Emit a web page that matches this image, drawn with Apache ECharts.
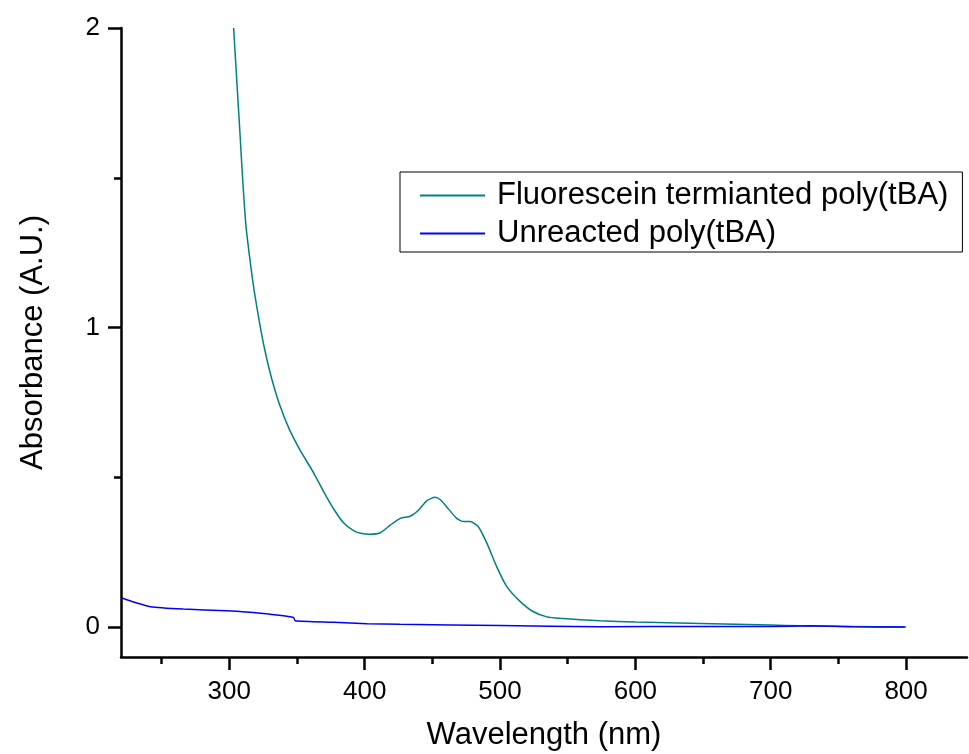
<!DOCTYPE html>
<html>
<head>
<meta charset="utf-8">
<title>Absorbance</title>
<script src="https://cdn.jsdelivr.net/npm/echarts@6/dist/echarts.min.js"></script>
<style>
    html, body { margin: 0; padding: 0; background: #fff; }
    #chart { width: 969px; height: 754px; }
</style>
</head>
<body>
<div id="chart"></div>
<script>
// wavelength (nm) / absorbance pairs
var fluoWl = [303.2, 306, 308, 309.8, 312.3, 316, 318.5, 322.2, 326, 331, 337, 344.4, 352.4, 362.3, 369.7, 377,
    384.4, 391.8, 398, 404, 411.5, 418.9, 426.3, 433.7, 439.8, 446, 452, 456, 460.8, 468, 473, 478, 484,
    490.3, 497.7, 505, 515, 524.7, 534.6, 544.5, 574, 600, 648, 700, 722, 760, 800];
var fluoAbs = [2.0, 1.79, 1.64, 1.50, 1.34, 1.20, 1.12, 1.02, 0.93, 0.835, 0.745, 0.66, 0.59, 0.515, 0.452, 0.395,
    0.348, 0.322, 0.312, 0.31, 0.315, 0.34, 0.363, 0.37, 0.39, 0.422, 0.433, 0.425, 0.40, 0.363, 0.352, 0.352, 0.335,
    0.28, 0.20, 0.135, 0.085, 0.051, 0.034, 0.029, 0.021, 0.017, 0.012, 0.007, 0.004, 0.002, 0.0];

var unrWl = [220.3, 230, 241.7, 266, 298, 323, 347.5, 348.7, 377, 401.7, 426, 500, 574, 650, 700, 729, 760, 799];
var unrAbs = [0.098, 0.083, 0.068, 0.060, 0.054, 0.046, 0.032, 0.021, 0.016, 0.011, 0.009, 0.005, 0.001, 0.002, 0.002, 0.004, 0.001, 0.0];

var xTicks = [300, 400, 500, 600, 700, 800];
var xMinor = [250, 350, 450, 550, 650, 750];
var yTicks = [0, 1, 2];
var yMinor = [0.5, 1.5];

function pairs(xs, ys) {
    var out = [];
    for (var i = 0; i < xs.length; i++) out.push([xs[i], ys[i]]);
    return out;
}

var font = '"Liberation Sans", Arial, sans-serif';
var myChart = echarts.init(document.getElementById('chart'));

var xBase = {
    type: 'value', min: 220, max: 845, position: 'bottom',
    splitLine: { show: false }
};
var yBase = {
    type: 'value', min: -0.1, max: 2, position: 'left',
    splitLine: { show: false }
};

myChart.setOption({
    animation: false,
    grid: { left: 121, top: 28, right: 2, bottom: 97, containLabel: false, outerBoundsMode: 'none' },
    legend: {
        orient: 'vertical',
        left: 400, top: 172,
        padding: [8, 14, 3, 20],
        itemGap: 7,
        itemWidth: 65,
        itemHeight: 2,
        icon: 'rect',
        borderColor: '#000',
        borderWidth: 1,
        textStyle: { fontFamily: font, fontSize: 31, color: '#000', padding: [0, 0, 0, 7] },
        data: ['Fluorescein termianted poly(tBA)', 'Unreacted poly(tBA)']
    },
    xAxis: [
        Object.assign({}, xBase, {
            name: 'Wavelength (nm)',
            nameLocation: 'middle',
            nameGap: 63,
            nameTextStyle: { fontFamily: font, fontSize: 31, color: '#000' },
            axisLine: { onZero: false, lineStyle: { color: '#000', width: 2.5 } },
            axisTick: { customValues: xTicks, length: 13, lineStyle: { color: '#000', width: 2.5 } },
            axisLabel: { customValues: xTicks, margin: 22, fontFamily: font, fontSize: 26, color: '#000' }
        }),
        Object.assign({}, xBase, {
            axisLine: { show: false, onZero: false },
            axisTick: { customValues: xMinor, length: 7, lineStyle: { color: '#000', width: 2.5 } },
            axisLabel: { show: false }
        })
    ],
    yAxis: [
        Object.assign({}, yBase, {
            name: 'Absorbance (A.U.)',
            nameLocation: 'middle',
            nameGap: 72,
            nameTextStyle: { fontFamily: font, fontSize: 31, color: '#000' },
            axisLine: { onZero: false, lineStyle: { color: '#000', width: 2.5 } },
            axisTick: { customValues: yTicks, length: 13, lineStyle: { color: '#000', width: 2.5 } },
            axisLabel: { customValues: yTicks, margin: 21, fontFamily: font, fontSize: 26, color: '#000' }
        }),
        Object.assign({}, yBase, {
            axisLine: { show: false, onZero: false },
            axisTick: { customValues: yMinor, length: 7, lineStyle: { color: '#000', width: 2.5 } },
            axisLabel: { show: false }
        })
    ],
    series: [
        {
            name: 'Fluorescein termianted poly(tBA)',
            type: 'line',
            xAxisIndex: 0, yAxisIndex: 0,
            symbol: 'none',
            smooth: 0.2,
            lineStyle: { color: '#008080', width: 1.5 },
            itemStyle: { color: '#008080' },
            data: pairs(fluoWl, fluoAbs)
        },
        {
            name: 'Unreacted poly(tBA)',
            type: 'line',
            xAxisIndex: 0, yAxisIndex: 0,
            symbol: 'none',
            smooth: 0.2,
            lineStyle: { color: '#0000ff', width: 1.5 },
            itemStyle: { color: '#0000ff' },
            data: pairs(unrWl, unrAbs)
        }
    ]
});
</script>
</body>
</html>
